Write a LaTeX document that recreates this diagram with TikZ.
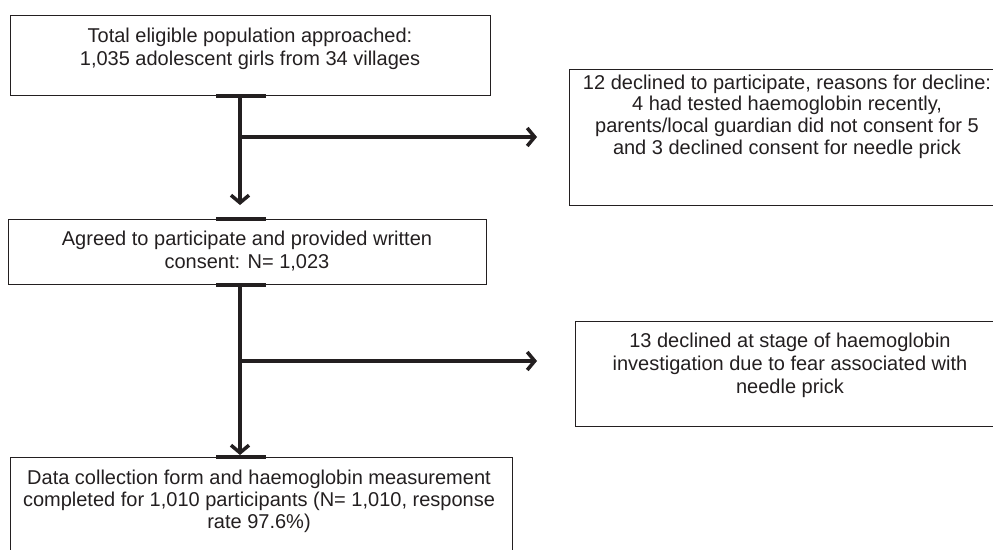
\documentclass[tikz,border=0pt]{standalone}
\usepackage{fontspec}
\setmainfont{Liberation Sans}
\usetikzlibrary{arrows.meta,calc}
\definecolor{ink}{HTML}{231F20}
\begin{document}
\begin{tikzpicture}[x=1pt,y=-1pt,
  boxst/.style={draw=ink,line width=1.3pt,inner sep=0pt,anchor=north west},
  txt/.style={text=ink,font=\fontsize{20}{23}\selectfont,align=center,inner sep=0pt,anchor=north},
  flow/.style={draw=ink,line width=3.5pt,-{Straight Barb[length=7.5pt,width=18pt]}},
  tickst/.style={draw=ink,line width=4pt}]
\path[use as bounding box] (0,0) rectangle (993,549);
\clip (0,0) rectangle (993,549);
% boxes
\node[boxst,minimum width=480pt,minimum height=80pt] (b1) at (10,15) {};
\node[boxst,minimum width=436pt,minimum height=136pt] (r1) at (569,69) {};
\node[boxst,minimum width=478pt,minimum height=65pt] (b2) at (8,219) {};
\node[boxst,minimum width=430pt,minimum height=105pt] (r2) at (575,321) {};
\node[boxst,minimum width=502pt,minimum height=113pt] (b3) at (10,457) {};
% texts
\node[txt] (t1) at (250,28) {Total eligible population approached:\\1,035 adolescent girls from 34 villages};
\node[txt,font=\fontsize{20}{21.8}\selectfont] (t2) at (787,74.5) {12 declined to participate, reasons for decline:\\4 had tested haemoglobin recently,\\parents/local guardian did not consent for 5\\and 3 declined consent for needle prick};
\node[txt] (t3) at (247,231) {Agreed to participate and provided written\\consent: N= 1,023};
\node[txt] (t4) at (790,333) {13 declined at stage of haemoglobin\\investigation due to fear associated with\\needle prick};
\node[txt,font=\fontsize{20}{22}\selectfont] (t5) at (259,470) {Data collection form and haemoglobin measurement\\completed for 1,010 participants (N= 1,010, response\\rate 97.6\%)};
% junctions
\coordinate (c1) at (240,137);
\coordinate (c2) at (240,361);
% connectors
\draw[flow,shorten >=14pt] (b1.south -| c1) -- (b2.north -| c1);
\draw[flow,shorten >=32pt] (c1) -- (r1.west |- c1);
\draw[flow,shorten >=2pt] (b2.south -| c2) -- (b3.north -| c2);
\draw[flow,shorten >=38pt] (c2) -- (r2.west |- c2);
% thick attachment marks
\draw[tickst] ($(b1.south -| c1)+(-24,0)$) -- ++(50,0);
\draw[tickst] ($(b2.north -| c1)+(-24,0)$) -- ++(50,0);
\draw[tickst] ($(b2.south -| c2)+(-24,0)$) -- ++(50,0);
\draw[tickst] ($(b3.north -| c2)+(-24,0)$) -- ++(50,0);
\draw[tickst] (c1) -- ++(26,0);
\draw[tickst] (c2) -- ++(26,0);
\end{tikzpicture}
\end{document}
